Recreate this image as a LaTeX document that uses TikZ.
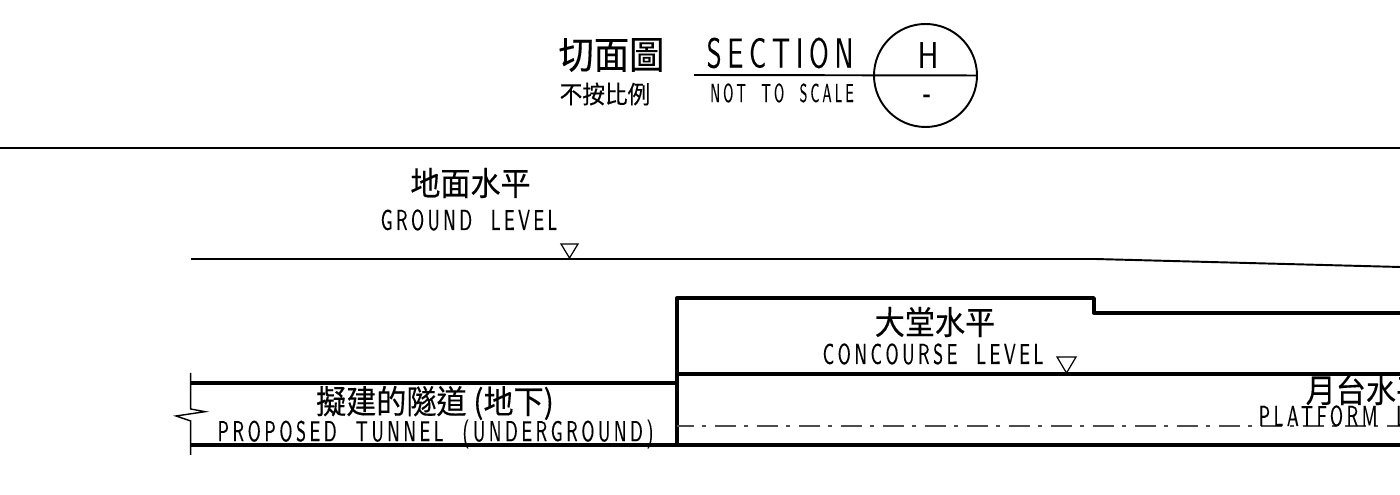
\documentclass[tikz,border=0pt]{standalone}
\usepackage{fontspec}
\usepackage{tikz}
\newfontfamily\cjkfont[FakeStretch=0.92,FakeBold=0.3]{Noto Sans CJK TC}
\newfontfamily\cadfont[FakeStretch=0.58,LetterSpace=12.5,WordSpace=2,FakeBold=0.1]{Latin Modern Sans}

\begin{document}
\begin{tikzpicture}[x=0.01cm,y=-0.01cm,
    thinline/.style={line width=0.55pt},
    wallline/.style={line width=0.95pt,line join=round},
    breakline/.style={line width=0.4pt},
    centreline/.style={line width=0.3pt,black!70,dash pattern=on 21*0.01cm off 8*0.01cm on 4*0.01cm off 9*0.01cm,dash phase=4.5*0.01cm},
    levelmark/.style={line width=0.35pt},
    cjklabel/.style={inner sep=0pt,font=\cjkfont\fontsize{9.3}{11}\selectfont},
    cadlabel/.style={inner sep=0pt,font=\cadfont\fontsize{8.2}{10}\selectfont}]

  \useasboundingbox (0,0) rectangle (1400,495);
  \clip (0,0) rectangle (1400,495);

  % Title block
  \node[circle,draw,thinline,inner sep=0pt,minimum size=103*0.01cm] (titlecircle) at (925.5,75.5) {};
  \coordinate (titleleft) at (694,75);
  \draw[thinline] (titleleft) -- (titlecircle.east);
  \node[cjklabel,font=\cjkfont\fontsize{10.9}{13}\selectfont] (titlecn) at (611.5,55) {切面圖};
  \node[cjklabel,font=\cjkfont\fontsize{7}{9}\selectfont] (scalecn) at (605,94) {不按比例};
  \node[cadlabel,font=\cadfont\fontsize{11.9}{14}\selectfont\addfontfeature{FakeStretch=0.65,LetterSpace=14}] (titleen) at (780,53) {SECTION};
  \node[cadlabel,font=\cadfont\fontsize{7.4}{9}\selectfont\addfontfeature{FakeStretch=0.5,LetterSpace=12}] (scaleen) at (782,93) {NOT TO SCALE};
  \node[cadlabel,font=\cadfont\fontsize{10.5}{12}\selectfont\addfontfeature{FakeStretch=0.8}] (sectionid) at (928,55) {H};
  \node[cadlabel,font=\cadfont\fontsize{12}{14}\selectfont] (sheetid) at (927,100) {-};

  % Sheet rule
  \coordinate (ruleleft) at (0,148);
  \coordinate (ruleright) at (1400,148);
  \draw[thinline] (ruleleft) -- (ruleright);

  % Ground level
  \coordinate (groundleft) at (191,259);
  \coordinate (groundbend) at (1095,259);
  \coordinate (groundright) at (1400,267);
  \coordinate (groundmark) at (569.5,258);
  \draw[thinline] (groundleft) -- (groundbend) -- (groundright);
  \draw[levelmark] (groundmark) -- ++(-8.5,-14) -- ++(17,0) -- cycle;
  \node[cjklabel] (groundcn) at (470.5,183) {地面水平};
  \node[cadlabel,font=\cadfont\fontsize{8.2}{10}\selectfont\addfontfeature{LetterSpace=12}] (grounden) at (469,220) {GROUND LEVEL};

  % Concourse box
  \coordinate (wallfoot) at (677,445);
  \coordinate (walltop) at (677,298);
  \coordinate (stepouter) at (1094,298);
  \coordinate (stepinner) at (1094,313);
  \coordinate (roofright) at (1400,313);
  \coordinate (floorleft) at (677,374);
  \coordinate (floorright) at (1400,374);
  \coordinate (concoursemark) at (1066.5,373);
  \draw[wallline] (wallfoot) -- (walltop) -- (stepouter) -- (stepinner) -- (roofright);
  \draw[wallline] (floorleft) -- (floorright);
  \draw[levelmark] (concoursemark) -- ++(-9.5,-16) -- ++(19,0) -- cycle;
  \node[cjklabel] (concoursecn) at (935,322) {大堂水平};
  \node[cadlabel] (concourseen) at (933,354) {CONCOURSE LEVEL};

  % Tunnel
  \coordinate (tunneltopleft) at (191,383);
  \coordinate (tunneltopright) at (677,383);
  \coordinate (tunnelfootleft) at (191,445);
  \coordinate (tunnelfootright) at (1400,445);
  \draw[wallline] (tunneltopleft) -- (tunneltopright);
  \draw[wallline] (tunnelfootleft) -- (tunnelfootright);
  \node[cjklabel] (tunnelcn) at (435,403) {擬建的隧道 (地下)};
  \node[cadlabel] (tunnelen) at (435.5,434) {PROPOSED TUNNEL (UNDERGROUND)};

  % Break line
  \coordinate (breaktop) at (190.7,373);
  \coordinate (breakbottom) at (190.7,455);
  \draw[breakline] (breaktop) -- (190.7,409) -- (205,411.7) -- (176,416) -- (190.7,421) -- (breakbottom);

  % Platform level
  \coordinate (platformleft) at (677,426);
  \coordinate (platformright) at (1400,426);
  \draw[centreline] (platformleft) -- (platformright);
  \node[cjklabel,anchor=west] (platformcn) at (1305,390) {月台水平};
  \node[cadlabel,anchor=west] (platformen) at (1258,416) {PLATFORM LEVEL};

\end{tikzpicture}
\end{document}
